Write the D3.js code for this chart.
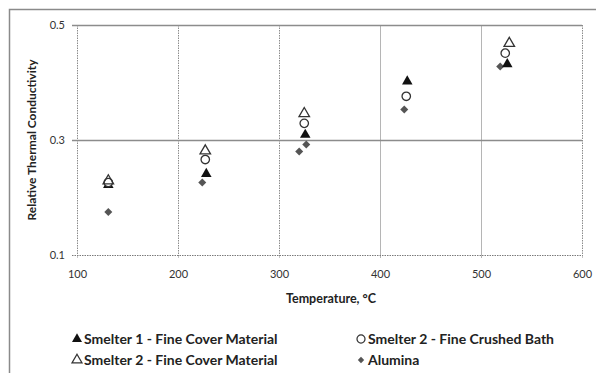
<!DOCTYPE html>
<html>
<head>
<meta charset="utf-8">
<script src="https://cdn.jsdelivr.net/npm/d3@7"></script>
<style>
  body { margin: 0; background: #fff; }
  svg { font-family: Lato, "Open Sans", sans-serif; }
</style>
</head>
<body>
<div id="chart"></div>
<script>
(function () {

    // series: [temperature, relative conductivity]
    var smelter1Cover = [[131, 0.222], [228, 0.241], [326, 0.309], [427, 0.402], [526, 0.432]];
    var smelter2Bath = [[131, 0.226], [227, 0.266], [325, 0.329], [426, 0.376], [524, 0.451]];
    var smelter2Cover = [[131, 0.229], [227, 0.281], [325, 0.346], [528, 0.468]];
    var alumina = [[131, 0.175], [224, 0.226], [320, 0.280], [327, 0.292], [424, 0.353], [519, 0.428]];

    var xTicks = [100, 200, 300, 400, 500, 600];
    var yTicks = [0.1, 0.3, 0.5];

    var series = [
        { name: "Smelter 1 - Fine Cover Material", data: smelter1Cover, shape: "triFill" },
        { name: "Smelter 2 - Fine Crushed Bath", data: smelter2Bath, shape: "circle" },
        { name: "Smelter 2 - Fine Cover Material", data: smelter2Cover, shape: "triOpen" },
        { name: "Alumina", data: alumina, shape: "diamond" }
    ];

    var width = 596, height = 373;
    var left = 77, right = 582, top = 25, bottom = 255;

    var svg = d3.select("#chart").append("svg")
        .attr("width", width)
        .attr("height", height);

    // outer chart frame (runs off the right and bottom of the picture)
    svg.append("path")
        .attr("d", "M9.5," + (height + 5) + "V9.5H" + (width + 5))
        .attr("fill", "none")
        .attr("stroke", "#8a8a8a")
        .attr("stroke-width", 1.5);

    var x = d3.scaleLinear().domain([100, 600]).range([left, right]);
    var y = d3.scaleLinear().domain([0.1, 0.5]).range([bottom, top]);

    // vertical grid
    svg.append("g").selectAll("line")
        .data(xTicks)
        .enter().append("line")
        .attr("x1", function (d) { return Math.round(x(d)) + 0.5; })
        .attr("x2", function (d) { return Math.round(x(d)) + 0.5; })
        .attr("y1", top)
        .attr("y2", bottom + 3)
        .attr("stroke", function (d) { return (d == 400 || d == 500) ? "#b5b5b5" : "#8c8c8c"; })
        .attr("stroke-dasharray", function (d) { return (d == 400 || d == 500) ? null : "1.5,1"; });

    // horizontal grid
    svg.append("g").selectAll("line")
        .data(yTicks)
        .enter().append("line")
        .attr("x1", left - 5)
        .attr("x2", right)
        .attr("y1", function (d) { return Math.round(y(d)) + 0.5; })
        .attr("y2", function (d) { return Math.round(y(d)) + 0.5; })
        .attr("stroke", function (d) { return d == 0.1 ? "#7a7a7a" : "#8c8c8c"; })
        .attr("stroke-width", function (d) { return d == 0.1 ? 1.2 : 1.5; })
        .attr("stroke-dasharray", function (d) { return d == 0.1 ? "1.5,1" : null; });

    // tick labels
    var xAxis = d3.axisBottom(x).tickValues(xTicks).tickSize(0).tickPadding(15);
    svg.append("g")
        .attr("transform", "translate(0," + bottom + ")")
        .call(xAxis)
        .call(function (g) { g.select(".domain").remove(); })
        .selectAll("text")
        .attr("font-size", 11)
        .attr("fill", "#333")
        .style("font-family", "Lato, sans-serif");

    var yAxis = d3.axisLeft(y).tickValues(yTicks).tickFormat(d3.format(".1f")).tickSize(0).tickPadding(12);
    svg.append("g")
        .attr("transform", "translate(" + left + ",0)")
        .call(yAxis)
        .call(function (g) { g.select(".domain").remove(); })
        .selectAll("text")
        .attr("font-size", 11)
        .attr("fill", "#333")
        .style("font-family", "Lato, sans-serif");

    // axis titles
    svg.append("text")
        .attr("x", 331)
        .attr("y", 303)
        .attr("text-anchor", "middle")
        .attr("font-size", 12.5)
        .attr("font-weight", "bold")
        .attr("fill", "#222")
        .text("Temperature, °C");

    svg.append("text")
        .attr("transform", "translate(36,140) rotate(-90)")
        .attr("text-anchor", "middle")
        .attr("font-size", 12)
        .attr("font-weight", "bold")
        .attr("fill", "#222")
        .text("Relative Thermal Conductivity");

    var triangle = d3.symbol().type(d3.symbolTriangle).size(48);
    var circle = d3.symbol().type(d3.symbolCircle).size(56);
    var diamond = d3.symbol().type(d3.symbolSquare).size(32);

    function drawMarker(sel, shape) {
        if (shape == "triFill") {
            sel.append("path").attr("d", triangle()).attr("fill", "#111");
        } else if (shape == "triOpen") {
            sel.append("path").attr("d", triangle()).attr("fill", "none")
                .attr("stroke", "#333").attr("stroke-width", 1.3);
        } else if (shape == "circle") {
            sel.append("path").attr("d", circle()).attr("fill", "#fff")
                .attr("stroke", "#333").attr("stroke-width", 1.3);
        } else {
            sel.append("path").attr("d", diamond()).attr("fill", "#555")
                .attr("transform", "rotate(45)");
        }
    }

    // draw in the order that keeps the visible overlaps
    var drawOrder = [series[3], series[0], series[1], series[2]];
    drawOrder.forEach(function (s) {
        svg.append("g").selectAll("g")
            .data(s.data)
            .enter().append("g")
            .attr("transform", function (d) { return "translate(" + x(d[0]) + "," + y(d[1]) + ")"; })
            .each(function () { drawMarker(d3.select(this), s.shape); });
    });

    // legend, two columns
    var legendPos = [[77, 339], [361, 339], [77, 360], [361, 360]];
    var legend = svg.append("g").selectAll("g")
        .data(series)
        .enter().append("g")
        .attr("transform", function (d, i) { return "translate(" + legendPos[i][0] + "," + legendPos[i][1] + ")"; });

    legend.each(function (d) {
        var g = d3.select(this);
        var m = g.append("g").attr("transform", d.shape == "diamond" ? "scale(0.8)" : "scale(0.95)");
        drawMarker(m, d.shape);
    });

    legend.append("text")
        .attr("x", 7)
        .attr("dy", "0.36em")
        .attr("font-size", 14)
        .attr("font-weight", "bold")
        .attr("fill", "#222")
        .text(function (d) { return d.name; });

})();
</script>
</body>
</html>
